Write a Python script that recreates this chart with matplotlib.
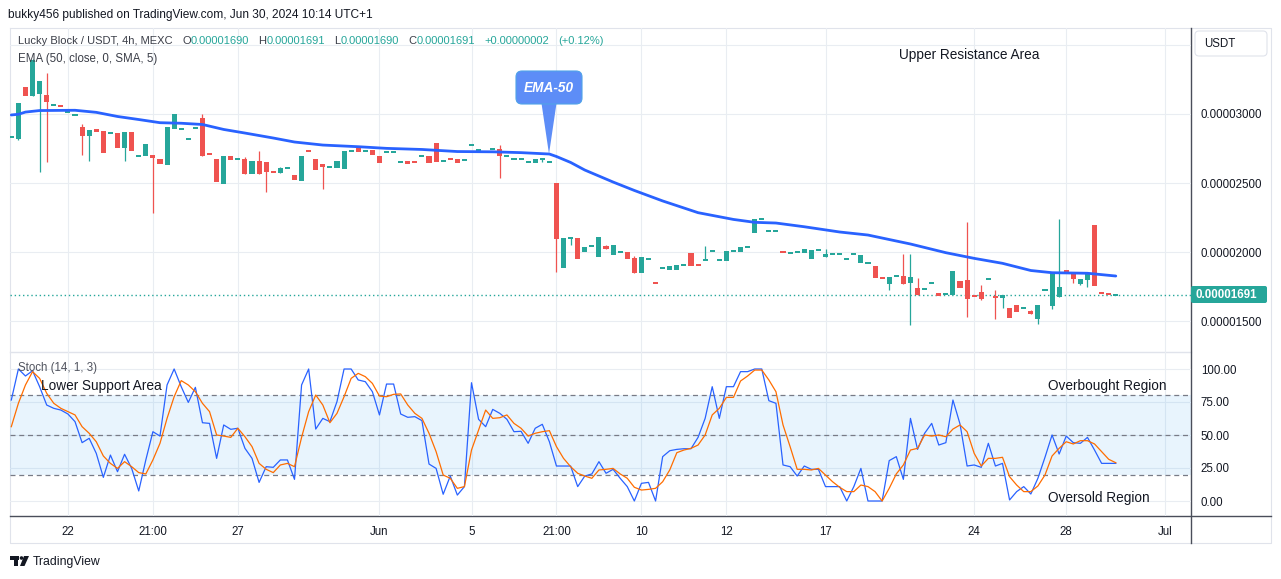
import matplotlib
matplotlib.use("Agg")
import matplotlib.pyplot as plt
from matplotlib.patches import FancyBboxPatch, Polygon, Rectangle, Circle

plt.rcParams['font.family'] = ['Liberation Sans', 'DejaVu Sans']

# ---------------- data (prices in units of 1e-8 USDT) ----------------
opens = [2831,2819,3196,3131,3143,3138,3063,3058,3012,2991,
         2904,2843,2892,2877,2863,2863,2756,2870,2694,2696,
         2703,2674,2633,2894,2894,2817,2896,2969,2710,2674,
         2496,2696,2674,2674,2568,2660,2650,2580,2575,2609,
         2558,2515,2731,2674,2638,2614,2609,2601,2729,2758,
         2729,2739,2696,2722,2722,2650,2659,2652,2693,2696,
         2790,2657,2673,2674,2664,2773,2737,2727,2744,2746,
         2693,2671,2671,2650,2647,2676,2650,2500,1887,2099,
         2099,2000,2041,1966,2041,1981,2000,2000,1956,1848,
         1947,1775,1882,1870,1870,1903,1993,1905,1940,2005,
         1940,1935,2007,2000,2034,2138,2237,2150,2150,2000,
         1990,1998,1993,1949,2012,1964,1983,1983,1947,1985,
         1922,1918,1898,1816,1770,1823,1826,1778,1739,1729,
         1773,1703,1693,1691,1790,1797,1681,1710,1802,1673,
         1669,1594,1616,1592,1575,1517,1722,1611,1676,1869,
         1855,1770,1800,2195,1702,1695,1690]
highs = [2831,3080,3196,3400,3239,3300,3063,3058,3012,2991,
         2928,2885,2892,2877,2863,2863,2870,2870,2694,2781,
         2703,2674,2906,3000,2894,2817,2896,3000,2710,2674,
         2696,2696,2674,2686,2660,2735,2650,2580,2616,2609,
         2558,2696,2731,2674,2638,2614,2659,2732,2729,2758,
         2729,2739,2696,2722,2722,2650,2659,2652,2693,2696,
         2790,2657,2673,2674,2664,2773,2737,2727,2744,2775,
         2693,2671,2671,2650,2674,2676,2650,2500,2102,2099,
         2099,2036,2041,2109,2051,2051,2000,2000,1971,1964,
         1947,1775,1882,1899,1906,1903,1993,1905,2043,2005,
         1940,2007,2007,2036,2034,2239,2237,2150,2150,2000,
         1990,1998,2022,2017,2012,2022,1983,1983,1947,1985,
         1978,1918,1898,1816,1819,1823,1985,1985,1809,1729,
         1773,1703,1693,1862,1790,2217,1681,1758,1802,1724,
         1688,1594,1616,1592,1580,1613,1722,1845,2239,1869,
         1855,1804,1840,2195,1702,1695,1691]
lows = [2831,2815,3131,3131,2583,2655,3063,3056,3012,2991,
        2703,2662,2872,2720,2863,2756,2662,2735,2694,2696,
        2285,2640,2633,2894,2894,2817,2896,2696,2708,2510,
        2496,2669,2674,2568,2568,2568,2438,2578,2575,2609,
        2522,2515,2729,2594,2457,2614,2609,2601,2729,2725,
        2729,2703,2645,2722,2722,2650,2640,2650,2693,2645,
        2655,2657,2671,2647,2664,2773,2737,2727,2744,2539,
        2693,2671,2671,2650,2647,2655,2650,1858,1887,2053,
        1949,2000,2041,1966,2022,1981,2000,1949,1848,1848,
        1947,1773,1882,1870,1870,1903,1898,1903,1940,2005,
        1940,1935,2007,2000,2034,2138,2237,2150,2150,1998,
        1990,1998,1993,1949,2012,1964,1983,1983,1947,1985,
        1922,1918,1814,1804,1724,1823,1770,1471,1686,1729,
        1773,1683,1693,1691,1741,1529,1679,1654,1802,1517,
        1596,1524,1568,1592,1553,1476,1722,1584,1676,1848,
        1775,1761,1749,1753,1700,1693,1690]
closes = [2831,3078,3131,3392,3239,3090,3063,3056,3012,2991,
          2843,2884,2872,2720,2863,2756,2870,2735,2694,2781,
          2684,2640,2906,3000,2894,2817,2896,2696,2708,2510,
          2696,2669,2674,2568,2660,2568,2582,2578,2609,2609,
          2522,2696,2729,2594,2616,2614,2659,2732,2729,2725,
          2729,2703,2645,2722,2722,2650,2640,2650,2693,2645,
          2655,2657,2671,2647,2664,2773,2737,2727,2744,2698,
          2693,2671,2671,2650,2674,2676,2650,2097,2102,2099,
          1949,2036,2041,2109,2022,2051,2000,1949,1848,1964,
          1947,1773,1882,1899,1906,1903,1898,1903,1940,2005,
          1940,2007,2007,2036,2034,2239,2237,2150,2150,1998,
          1990,1998,2022,2017,2012,1985,1983,1983,1947,1985,
          1978,1918,1814,1804,1819,1823,1770,1819,1686,1729,
          1773,1683,1693,1862,1741,1662,1679,1659,1802,1671,
          1688,1524,1568,1592,1553,1613,1722,1845,1744,1848,
          1807,1804,1840,1753,1700,1693,1691]

ema_idx = [0, 1, 2, 4, 9, 12, 15, 18, 21, 24, 27, 30, 33, 37, 40, 44, 49, 53, 58,
           63, 68, 72, 76, 77, 79, 81, 85, 88, 92, 97, 102, 105, 108, 112, 117,
           121, 127, 132, 136, 140, 144, 147, 152, 156]
ema_val = [2993, 2998, 3014, 3025, 3027, 3012, 2982, 2960, 2937, 2933, 2924, 2888,
           2862, 2826, 2797, 2775, 2763, 2751, 2743, 2728, 2726, 2720, 2710, 2692,
           2649, 2594, 2507, 2446, 2370, 2285, 2236, 2215, 2210, 2183, 2145, 2123,
           2058, 1995, 1954, 1918, 1866, 1850, 1846, 1826]

stoch_k = [76.5,100,94.7,98.7,86.6,72.7,70.2,68.9,65.9,60.1,
           44.2,47.5,36.1,17.9,34.8,22.2,35.4,24.7,7.6,31.1,
           52.5,49.2,87.9,100,86.6,74.7,86.1,59.3,58.8,32.3,
           57.6,54.3,55.1,39.9,32.3,14.1,26.0,25.5,31.1,31.1,
           16.4,87.9,100,54.5,62.6,60.1,75.3,100,100,91.7,
           90.4,82.8,65.2,88.6,88.6,65.9,63.4,63.9,60.9,28.0,
           24.7,5.1,18.9,4.5,10.9,89.6,61.9,56.3,69.4,66.4,
           61.9,52.5,52.8,43.7,55.1,58.1,44.9,26.5,26.5,26.5,
           10.9,18.9,20.5,29.8,21.0,24.0,17.2,10.9,0,13.4,
           14.1,0,33.6,38.1,39.1,39.6,39.6,48.2,62.6,86.6,
           62.6,86.6,86.6,98.0,98.0,100,100,76.0,74.0,27.3,
           26.0,18.9,26.5,24.0,24.0,10.9,10.9,10.9,0,10.9,
           24.7,0,0,0,30.6,33.6,16.4,62.6,39.1,51.3,
           58.8,42.4,44.2,76.5,58.3,26.5,27.3,25.5,43.7,26.5,
           28.5,0.8,7.1,10.9,5.3,17.2,33.1,50.0,35.6,49.2,
           44.2,43.7,48.2,38.6,28.5,28.5,28.5]
stoch_d = [56.3,74.0,87.9,98.0,92.9,81.6,74.0,70.2,67.7,65.2,
           56.3,51.3,44.9,34.1,28.5,24.7,29.8,26.0,21.5,20.5,
           31.1,43.7,62.6,79.0,91.2,87.9,82.8,74.0,67.7,50.0,
           49.2,48.2,55.1,48.7,41.2,28.5,24.0,21.5,27.3,28.5,
           26.0,48.2,67.7,80.3,72.7,59.3,66.4,79.0,92.9,96.7,
           94.2,89.1,79.5,79.0,80.8,81.1,72.7,66.4,62.6,51.3,
           37.4,19.7,17.2,9.6,10.9,38.6,53.8,68.9,62.6,63.1,
           65.2,58.8,55.1,49.2,51.3,52.5,53.3,41.2,32.3,26.0,
           21.0,18.9,17.2,23.5,24.0,24.7,20.5,17.2,10.4,8.3,
           8.8,9.6,14.6,23.5,36.6,38.6,39.9,42.4,50.0,65.2,
           70.2,78.5,78.5,90.9,94.7,99.2,99.2,91.7,82.8,57.6,
           41.2,24.0,24.0,23.5,24.7,19.7,14.6,10.4,7.1,7.1,
           12.1,10.9,7.1,0,9.6,20.5,27.3,38.6,39.9,50.0,
           49.2,50.0,48.7,54.5,57.6,52.5,36.1,26.5,32.3,32.3,
           33.1,18.4,12.1,7.1,7.1,11.4,19.7,34.1,39.9,44.9,
           43.2,45.7,45.7,43.2,37.4,31.6,29.0]

time_tick_idx = [8, 20, 32, 52, 65, 77, 89, 101, 115, 136, 149, 163]
time_tick_labels = ["22", "21:00", "27", "Jun", "5", "21:00", "10", "12", "17", "24", "28", "Jul"]
price_ticks = [1500, 2000, 2500, 3000]
stoch_ticks = [0, 25, 50, 75, 100]
last_price = 1691

# ---------------- styling ----------------
W, H = 1281, 579
GREEN, RED = '#26a69a', '#ef5350'
GRID = '#e9edf2'
TXT = '#131722'
BORDER = '#e0e3eb'
DARK = '#3b3e48'

fig = plt.figure(figsize=(W / 100, H / 100), dpi=100)
fig.patch.set_facecolor('white')

bg = fig.add_axes([0, 0, 1, 1], zorder=0)
bg.set_xlim(0, W); bg.set_ylim(H, 0); bg.axis('off')

X0, X1 = 10, 1191
YT, YM, YB = 28, 352, 516
XR, YAX = 1271, 543


def fa(x0, y0, x1, y1):
    return [x0 / W, 1 - y1 / H, (x1 - x0) / W, (y1 - y0) / H]


xl = ((X0 - 11.3) / 7.08, (X1 - 11.3) / 7.08)

ax = fig.add_axes(fa(X0, YT, X1, YM), zorder=1)
ax.set_facecolor('none')
ax.set_xlim(*xl)
ax.set_ylim(3000 - (YM - 114) * 7.246, 3000 + (114 - YT) * 7.246)

axs = fig.add_axes(fa(X0, YM, X1, YB), zorder=1)
axs.set_facecolor('none')
axs.set_xlim(*xl)
axs.set_ylim((501 - YB) / 1.32, (501 - YM) / 1.32)

for a in (ax, axs):
    for s in a.spines.values():
        s.set_visible(False)
    a.set_xticks(time_tick_idx)
    a.grid(True, color=GRID, lw=0.8)
    a.set_axisbelow(True)
    a.tick_params(length=0, labelsize=8.3, labelcolor=TXT)
    a.yaxis.tick_right()

ax.set_xticklabels([])
ax.axhline(3500, color=GRID, lw=0.8, zorder=0)
ax.set_yticks(price_ticks)
ax.set_yticklabels([f"{v * 1e-8:.8f}" for v in price_ticks])
ax.tick_params(axis='y', pad=7)

axs.set_xticklabels(time_tick_labels)
axs.tick_params(axis='x', pad=7)
axs.set_yticks(stoch_ticks)
axs.set_yticklabels([f"{v:.2f}" for v in stoch_ticks])
axs.tick_params(axis='y', pad=7)

# ---------------- candles ----------------
idx = list(range(len(closes)))
min_h = 2.0 * 7.246
for i in idx:
    o, h, l, c = opens[i], highs[i], lows[i], closes[i]
    col = GREEN if c >= o else RED
    if h > max(o, c) or l < min(o, c):
        ax.vlines(i, l, h, color=col, lw=0.9, zorder=3)
    bot, top = min(o, c), max(o, c)
    if top - bot < min_h:
        mid = (top + bot) / 2
        bot, top = mid - min_h / 2, mid + min_h / 2
    ax.bar(i, top - bot, bottom=bot, width=0.72, color=col, lw=0, zorder=4)

ax.plot(ema_idx, ema_val, color='#2962ff', lw=2.0, zorder=5, solid_capstyle='round')
ax.axhline(last_price, color=GREEN, lw=1.0, ls=(0, (1, 2)), zorder=2)

# ---------------- stochastic ----------------
axs.axhspan(20, 80, color=(33 / 255, 150 / 255, 243 / 255, 0.1), lw=0, zorder=1)
for lvl in (80, 50, 20):
    axs.axhline(lvl, color='#787b86', lw=0.9, ls=(0, (4, 3)), zorder=2)
axs.plot(idx, stoch_k, color='#2962ff', lw=0.9, zorder=4)
axs.plot(idx, stoch_d, color='#ff6d00', lw=0.9, zorder=5)

# ---------------- frame ----------------
bg.plot([X0, XR, XR, X0, X0], [YT, YT, YAX, YAX, YT], color=BORDER, lw=0.8)
bg.plot([X0, X1], [YM, YM], color=BORDER, lw=1.0)
bg.plot([X0, XR], [YB, YB], color='#4a4e5a', lw=1.0)
bg.plot([X1, X1], [YT, YAX], color='#4a4e5a', lw=1.0)

# ---------------- overlay texts ----------------
ov = fig.add_axes([0, 0, 1, 1], zorder=10)
ov.set_xlim(0, W); ov.set_ylim(H, 0); ov.axis('off'); ov.patch.set_alpha(0)

ov.text(8, 15, "bukky456 published on TradingView.com, Jun 30, 2024 10:14 UTC+1",
        fontsize=8.6, color=TXT, va='center', ha='left')

# symbol / OHLC legend, laid out piece after piece
LEG_FS = 8.0
groups = [[("Lucky Block / USDT, 4h, MEXC", DARK)],
          [("O", DARK), ("0.00001690", GREEN)],
          [("H", DARK), ("0.00001691", GREEN)],
          [("L", DARK), ("0.00001690", GREEN)],
          [("C", DARK), ("0.00001691", GREEN)],
          [("+0.00000002", GREEN)],
          [("(+0.12%)", GREEN)]]
rend = fig.canvas.get_renderer()
widths = []
for g in groups:
    ws = []
    for s, c in g:
        t = ov.text(0, 41, s, fontsize=LEG_FS)
        ws.append(t.get_window_extent(rend).width)
        t.remove()
    widths.append(ws)
total = sum(sum(ws) for ws in widths)
gap = max(4.0, min(20.0, (604 - 18 - total) / (len(groups) - 1)))
xcur = 18.0
for g, ws in zip(groups, widths):
    for (s, c), w in zip(g, ws):
        ov.text(xcur, 41, s, fontsize=LEG_FS, color=c, va='center')
        xcur += w
    xcur += gap

ov.text(18, 59, "EMA (50, close, 0, SMA, 5)", fontsize=8.3, color=DARK, va='center')
ov.text(18, 368, "Stoch (14, 1, 3)", fontsize=8.3, color='#50535e', va='center')

ov.text(899, 55, "Upper Resistance Area", fontsize=9.8, color=TXT, va='center')
ov.text(41, 386, "Lower Support Area", fontsize=9.8, color=TXT, va='center')
ov.text(1048, 386, "Overbought Region", fontsize=9.8, color=TXT, va='center')
ov.text(1048, 498, "Oversold Region", fontsize=9.8, color=TXT, va='center')

# EMA-50 callout
call_col = '#5d8df7'
ov.add_patch(Polygon([(541, 100), (557, 100), (549, 154)], closed=True, fc=call_col, ec='none'))
ov.add_patch(FancyBboxPatch((516, 71), 66, 33, boxstyle='round,pad=0,rounding_size=6',
                            fc=call_col, ec='#4fa3e8', lw=0.8))
ov.text(549, 88, "EMA-50", fontsize=9.8, color='white', fontweight='bold', style='italic',
        ha='center', va='center')

# price scale header + last price label
ov.add_patch(FancyBboxPatch((1195, 31), 72, 25, boxstyle='round,pad=0,rounding_size=4',
                            fc='white', ec=BORDER, lw=0.8))
ov.text(1204, 44, "USDT", fontsize=8.3, color=TXT, va='center')
ov.add_patch(FancyBboxPatch((1191, 286), 76, 17, boxstyle='round,pad=0,rounding_size=2',
                            fc=GREEN, ec='none'))
ov.text(1196, 294.5, f"{last_price * 1e-8:.8f}", fontsize=8.3, color='white',
        fontweight='bold', va='center')

# TradingView logo
bg.add_patch(Rectangle((10, 556), 9, 3.5, fc=TXT, ec='none'))
bg.add_patch(Rectangle((14, 556), 4, 10, fc=TXT, ec='none'))
bg.add_patch(Circle((21.5, 558), 1.8, fc=TXT, ec='none'))
bg.add_patch(Polygon([(24, 556), (29, 556), (24.5, 566), (20, 566)], closed=True, fc=TXT, ec='none'))
bg.text(33, 561.5, "TradingView", fontsize=8.8, color=TXT, va='center')

fig.savefig("out.png", dpi=100, facecolor='white')
